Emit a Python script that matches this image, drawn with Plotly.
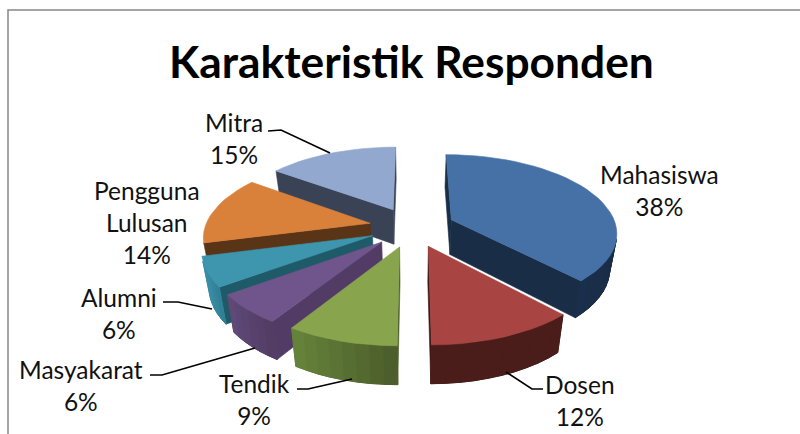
import math
import plotly.graph_objects as go

# ---- data ----
categories = ["Mahasiswa", "Dosen", "Tendik", "Masyakarat", "Alumni", "Pengguna Lulusan", "Mitra"]
values = [38, 12, 9, 6, 6, 14, 15]
title_text = "Karakteristik Responden"

# ---- styles ----
top_colors = ["#4571A6", "#A84442", "#88A54D", "#6F558C", "#3D95AE", "#D9803A", "#92A8CF"]
wall_left = ["#1A2F4B", "#4A1D1B", "#66843B", "#5F4A78", "#3A8FA7", "#5A3416", "#3A4356"]
wall_right = ["#1A2D47", "#4A1C1A", "#4A5B2A", "#523B63", "#2E7E93", "#5A3416", "#3A4356"]
cut_colors = ["#1A2D47", "#3E1715", "#4A5B2A", "#523C66", "#1F5A68", "#5A3416", "#3A4356"]
draw_order = [6, 5, 0, 4, 3, 1, 2]

# projection parameters (exploded, tilted pie in perspective)
CX, CY = 412.0, 227.0
SX, SY = 165.0, 77.0
PERSP = 0.152
EXPLODE = 0.26
DEPTH = 35.0
BOTTOM_SHRINK = 0.965


def project(wx, wy, low=False):
    d = 1 - PERSP * wy
    x = SX * wx / d
    y = SY * wy / d
    if low:
        return CX + x * BOTTOM_SHRINK, CY + y + DEPTH / math.sqrt(d)
    return CX + x, CY + y


def mix(c1, c2, t):
    a = [int(c1[i:i + 2], 16) for i in (1, 3, 5)]
    b = [int(c2[i:i + 2], 16) for i in (1, 3, 5)]
    return "#%02x%02x%02x" % tuple(round(p + (q - p) * t) for p, q in zip(a, b))


def area(pts):
    s = 0
    for i in range(len(pts)):
        x1, y1 = pts[i]
        x2, y2 = pts[(i + 1) % len(pts)]
        s += x1 * y2 - x2 * y1
    return s


def poly(fig, pts, color, width=0.6):
    xs = [p[0] for p in pts] + [pts[0][0]]
    ys = [p[1] for p in pts] + [pts[0][1]]
    fig.add_trace(go.Scatter(x=xs, y=ys, mode="lines", fill="toself", fillcolor=color,
                             line=dict(color=color, width=width), hoverinfo="skip",
                             showlegend=False))


fig = go.Figure()
total = sum(values)
starts = []
acc = 0.0
for v in values:
    starts.append(acc)
    acc += v / total * 2 * math.pi

for i in draw_order:
    a0 = starts[i]
    a1 = a0 + values[i] / total * 2 * math.pi
    mid = (a0 + a1) / 2
    ox, oy = EXPLODE * math.sin(mid), -EXPLODE * math.cos(mid)
    n = max(6, int((a1 - a0) / math.radians(4)))
    world = [(ox + math.sin(a0 + (a1 - a0) * k / n), oy - math.cos(a0 + (a1 - a0) * k / n))
             for k in range(n + 1)]
    apex = (ox, oy)

    # radial cut faces
    for edge, sign in ((world[0], 1), (world[-1], -1)):
        quad = [project(*apex), project(*edge), project(*edge, low=True), project(*apex, low=True)]
        if sign * area(quad) < 0:
            poly(fig, quad, cut_colors[i])

    # outer wall: solid base first, then shading bands over it
    facing = []
    for k in range(n):
        p, q = world[k], world[k + 1]
        quad = [project(*p), project(*q), project(*q, low=True), project(*p, low=True)]
        if area(quad) < 0:
            facing.append((p, q, quad))
    if facing:
        upper = [project(*f[0]) for f in facing] + [project(*facing[-1][1])]
        lower = [project(*f[0], low=True) for f in facing] + [project(*facing[-1][1], low=True)]
        poly(fig, upper + lower[::-1], mix(wall_left[i], wall_right[i], 0.5))
        xs_all = [p[0] for p in upper]
        for p, q, quad in facing:
            t = (project(*p)[0] + project(*q)[0]) / 2
            t = (t - min(xs_all)) / max(1e-6, max(xs_all) - min(xs_all))
            poly(fig, quad, mix(wall_left[i], wall_right[i], t), width=1.0)

    # top face
    poly(fig, [project(*apex)] + [project(*w) for w in world], top_colors[i])

# ---- labels ----
label_pos = {
    "Mahasiswa": (659, 190), "Dosen": (580, 400), "Tendik": (254, 399),
    "Masyakarat": (81, 385), "Alumni": (119, 313), "Pengguna Lulusan": (147, 222),
    "Mitra": (234, 138),
}
annotations = []
for c, v in zip(categories, values):
    x, y = label_pos[c]
    annotations.append(dict(x=x, y=y, xref="x", yref="y", showarrow=False, xanchor="center",
                            yanchor="middle", align="center",
                            text=c.replace(" ", "<br>") + "<br>%d%%" % v,
                            font=dict(family="Lato", size=24.5, color="#111111")))
annotations.append(dict(x=411, y=60, xref="x", yref="y", showarrow=False, text=title_text,
                        xanchor="center", yanchor="middle",
                        font=dict(family="Lato", size=44.3, color="#000000", weight="bold")))

leaders = [
    [(268, 131), (281, 130), (330, 153)],
    [(163, 302), (178, 302), (212, 309)],
    [(150, 375), (162, 375), (255, 348)],
    [(297, 389), (308, 389), (352, 379)],
    [(543, 389), (532, 389), (506, 372)],
]
shapes = []
for pts in leaders:
    path = "M" + " L".join("%d,%d" % p for p in pts)
    shapes.append(dict(type="path", path=path, xref="x", yref="y",
                       line=dict(color="#000000", width=1.7)))
# chart frame
shapes.append(dict(type="path", path="M8,434 L8,10 L800,10", xref="x", yref="y",
                   line=dict(color="#868686", width=1.5)))

fig.update_layout(
    width=800, height=434, margin=dict(l=0, r=0, t=0, b=0),
    paper_bgcolor="white", plot_bgcolor="white", showlegend=False,
    xaxis=dict(range=[0, 800], visible=False, fixedrange=True),
    yaxis=dict(range=[434, 0], visible=False, fixedrange=True),
    annotations=annotations, shapes=shapes, hovermode=False,
)
fig.write_html("out.html", config={"displayModeBar": False},
               post_script="document.body.style.margin='0';")
